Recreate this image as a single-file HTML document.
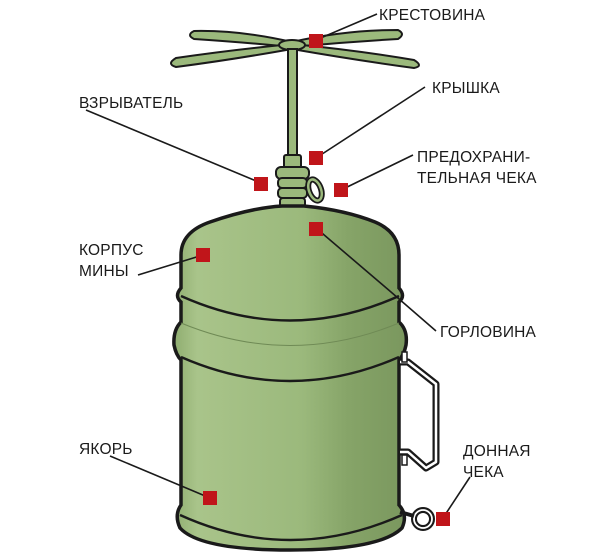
<!DOCTYPE html>
<html><head><meta charset="utf-8"><style>
html,body{margin:0;padding:0;background:#fff;width:600px;height:559px;overflow:hidden}
svg{display:block}
text{font-family:"Liberation Sans","DejaVu Sans",sans-serif;font-size:15.5px;fill:#1a1a1a;letter-spacing:0.2px}
</style></head><body>
<svg width="600" height="559" viewBox="0 0 600 559" xmlns="http://www.w3.org/2000/svg">
<defs>
<linearGradient id="g" x1="0" x2="1" y1="0" y2="0">
<stop offset="0" stop-color="#8fad70"/>
<stop offset="0.1" stop-color="#a9c48a"/>
<stop offset="0.55" stop-color="#9bb97c"/>
<stop offset="0.75" stop-color="#86a468"/>
<stop offset="1" stop-color="#7a975e"/>
</linearGradient>
</defs>
<g stroke="#1a1a1a" stroke-width="2" fill="#9bb97c">
<path d="M292 42 Q240 30 194 31 Q186 35 194 39 Q240 42 292 47 Z"/>
<path d="M292 44 Q230 50 176 58 Q166 64 176 67 Q230 60 292 49 Z"/>
<path d="M292 42 Q345 30 398 30 Q406 34 398 39 Q345 42 292 47 Z"/>
<path d="M292 44 Q355 50 414 60 Q424 66 414 68 Q355 60 292 49 Z"/>
<ellipse cx="292" cy="45" rx="13" ry="5"/>
<rect x="288" y="49" width="9" height="108"/>
<rect x="284" y="155" width="17" height="14" rx="2"/>
<rect x="276" y="167" width="33" height="12" rx="5"/>
<rect x="278" y="178" width="29" height="10" rx="4"/>
<rect x="278" y="188" width="29" height="10" rx="4"/>
<rect x="280" y="198" width="25" height="10" rx="3"/>
</g>
<ellipse cx="315" cy="190" rx="6" ry="11" fill="none" stroke="#1a1a1a" stroke-width="6" transform="rotate(-20 315 190)"/>
<ellipse cx="315" cy="190" rx="6" ry="11" fill="none" stroke="#9bb97c" stroke-width="2.5" transform="rotate(-20 315 190)"/>
<path d="M181 255 Q181 232 210 222 Q250 208 282 206 L304 206 Q345 210 375 222 Q399 232 399 255 L399 288 Q406 296 399 302 L399 322 Q408 330 406 345 Q404 355 399 360 L399 505 Q408 515 402 528 Q380 550 290 550 Q200 550 180 528 Q174 515 181 505 L181 360 Q176 355 174 345 Q173 330 181 322 L181 302 Q174 296 181 288 Z" fill="url(#g)" stroke="#1a1a1a" stroke-width="3.5"/>
<g fill="none" stroke="#1a1a1a" stroke-width="2.4">
<path d="M181 296 Q290 345 399 296"/>
<path d="M181 357 Q290 405 399 357"/>
<path d="M180 515 Q290 565 402 515"/>
<path d="M181 323 Q290 368 399 323" stroke-width="1" stroke="#6f8a55"/>
</g>
<path d="M400 362 L408 362 L436 384 L436 462 L426 468 L408 452 L400 452" fill="none" stroke="#1a1a1a" stroke-width="7" stroke-linejoin="round"/>
<path d="M400 362 L408 362 L436 384 L436 462 L426 468 L408 452 L400 452" fill="none" stroke="#fff" stroke-width="2.5" stroke-linejoin="round"/>
<rect x="402" y="352" width="5" height="10" fill="#fff" stroke="#1a1a1a" stroke-width="1.5"/>
<rect x="402" y="455" width="5" height="10" fill="#fff" stroke="#1a1a1a" stroke-width="1.5"/>
<circle cx="423" cy="519" r="9" fill="none" stroke="#1a1a1a" stroke-width="6"/>
<circle cx="423" cy="519" r="9" fill="none" stroke="#fff" stroke-width="1.8"/>
<path d="M400 512 L414 516" stroke="#1a1a1a" stroke-width="4"/>
<g stroke="#1a1a1a" stroke-width="1.6" fill="none">
<path d="M316 40 L377 14"/>
<path d="M316 158 L425 87"/>
<path d="M261 183 L86 110"/>
<path d="M341 190 L413 155"/>
<path d="M316 228 L391 292 L436 331"/>
<path d="M203 255 L138 275"/>
<path d="M210 498 L110 456"/>
<path d="M443 518 L470 477"/>
</g>
<g fill="#c0151a">
<rect x="309" y="34" width="14" height="14"/>
<rect x="309" y="151" width="14" height="14"/>
<rect x="254" y="177" width="14" height="14"/>
<rect x="334" y="183" width="14" height="14"/>
<rect x="309" y="222" width="14" height="14"/>
<rect x="196" y="248" width="14" height="14"/>
<rect x="203" y="491" width="14" height="14"/>
<rect x="436" y="512" width="14" height="14"/>
</g>
<text x="379" y="20">КРЕСТОВИНА</text>
<text x="432" y="93">КРЫШКА</text>
<text x="79" y="108">ВЗРЫВАТЕЛЬ</text>
<text x="417" y="162">ПРЕДОХРАНИ-</text>
<text x="417" y="183">ТЕЛЬНАЯ ЧЕКА</text>
<text x="79" y="255">КОРПУС</text>
<text x="79" y="276">МИНЫ</text>
<text x="440" y="337">ГОРЛОВИНА</text>
<text x="79" y="454">ЯКОРЬ</text>
<text x="463" y="456">ДОННАЯ</text>
<text x="463" y="477">ЧЕКА</text>
</svg>
</body></html>
